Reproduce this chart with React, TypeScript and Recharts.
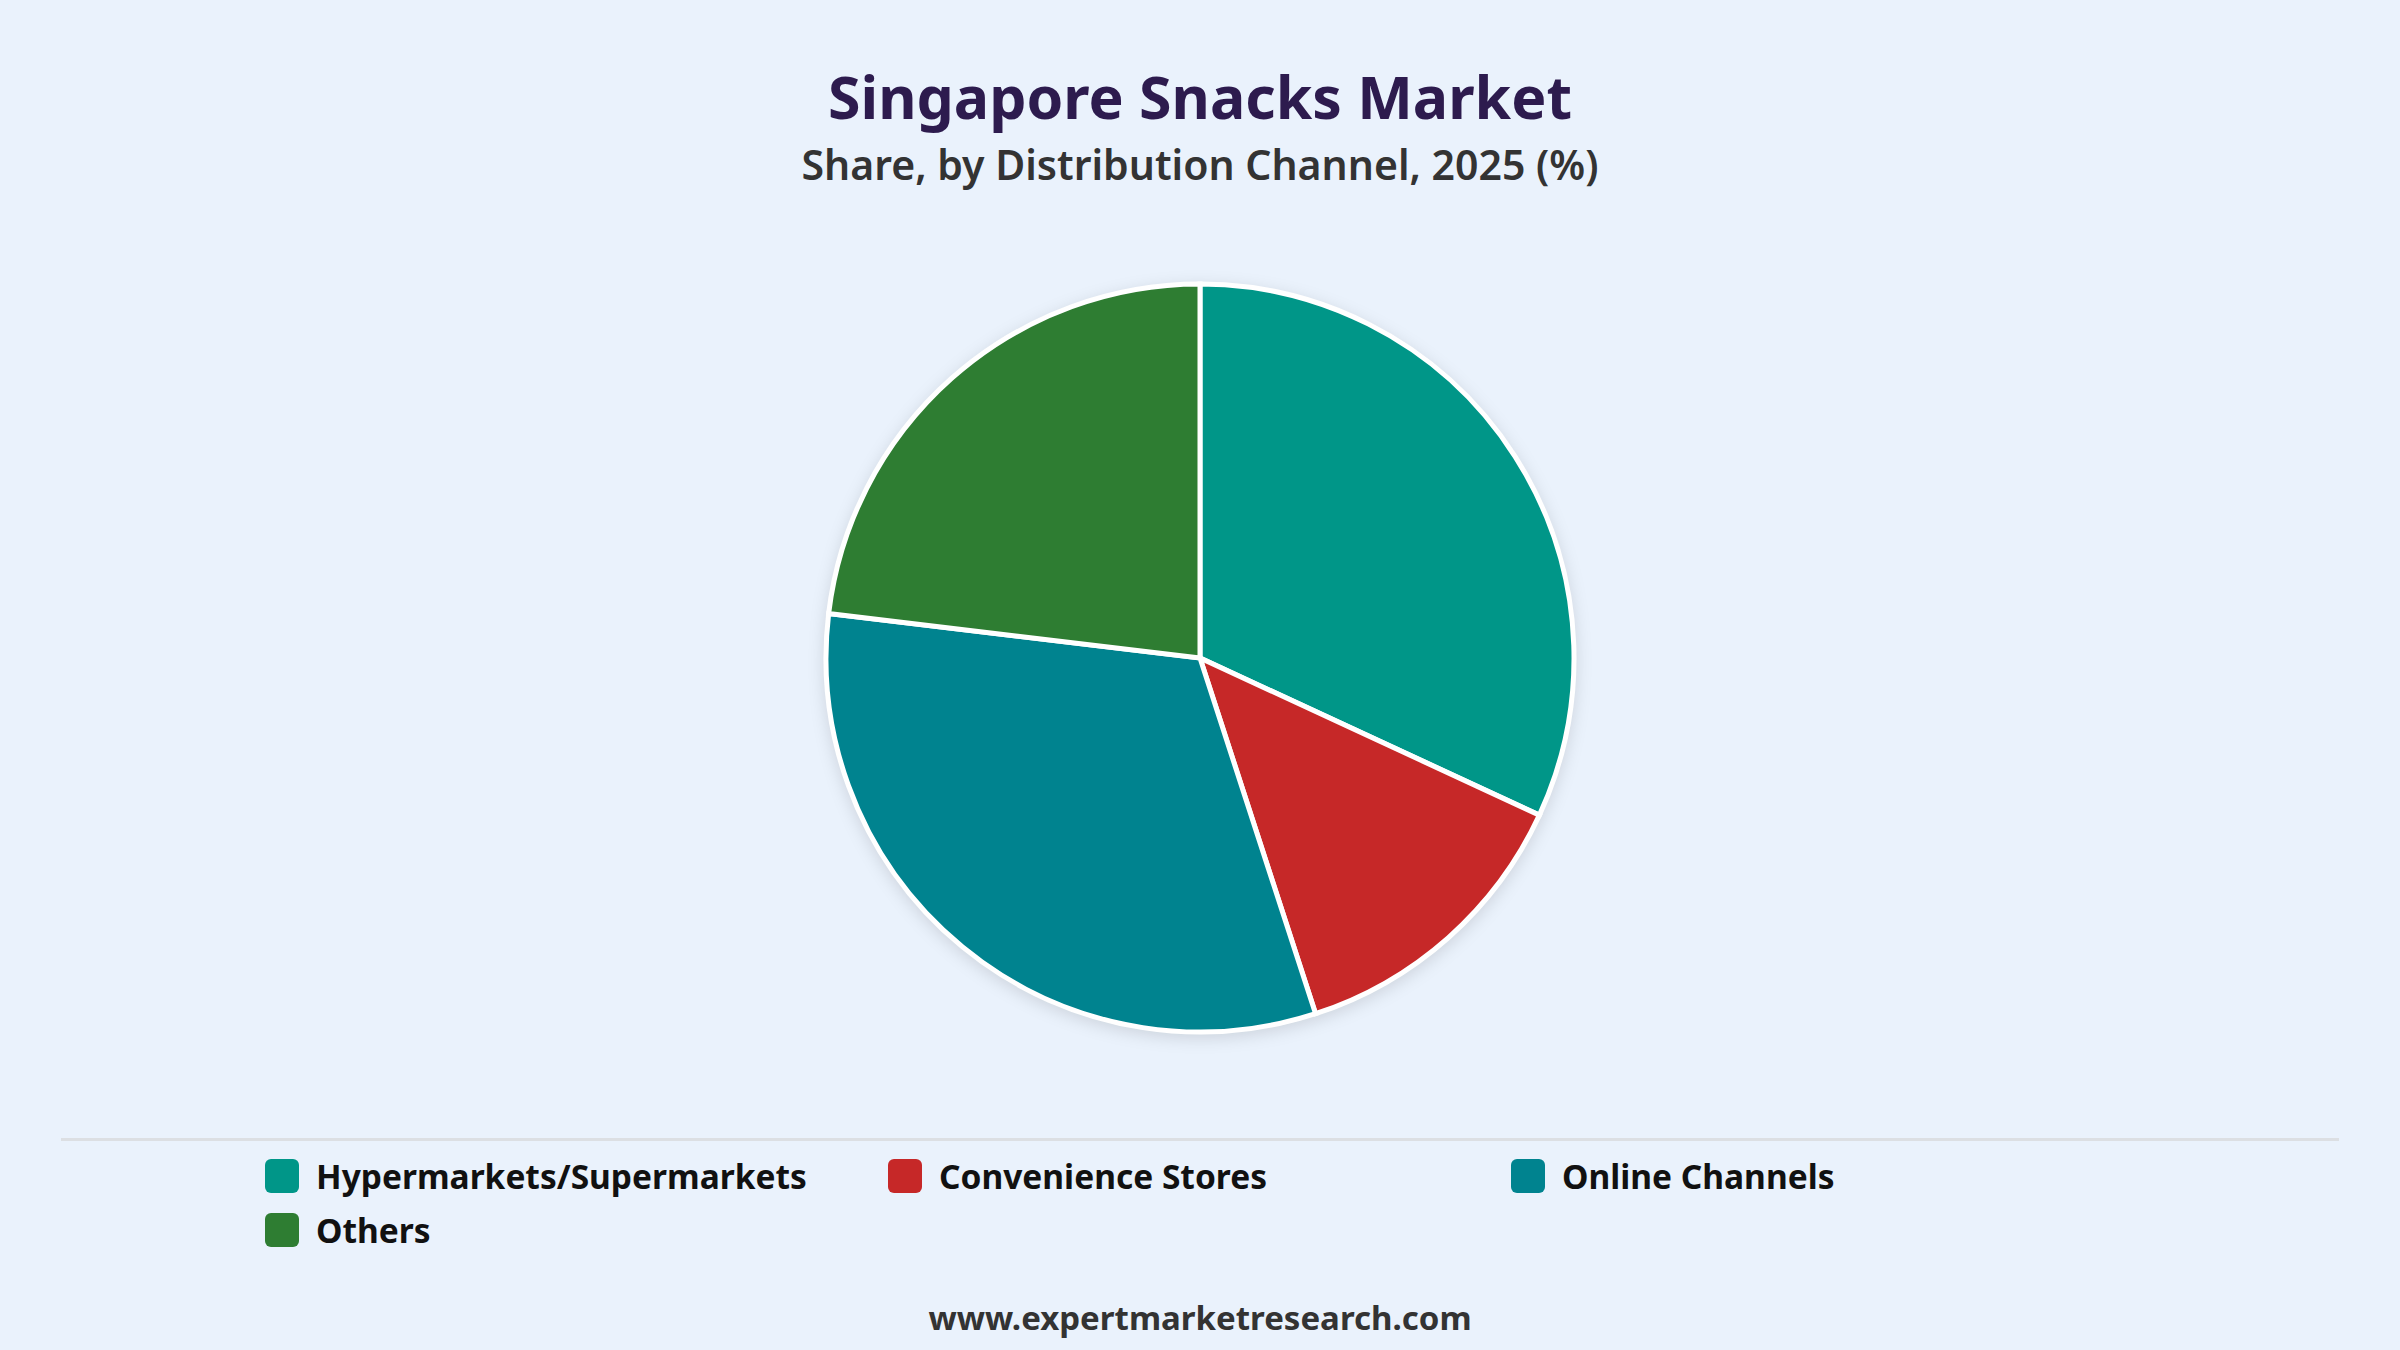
import { PieChart, Pie, Cell } from "recharts"

const channels = ["Hypermarkets/Supermarkets", "Convenience Stores", "Online Channels", "Others"]
const shares = [31.9, 13.1, 31.9, 23.1]
const colors = ["#009688", "#C62828", "#00838F", "#2E7D32"]

const data = channels.map((name, i) => ({ name, value: shares[i] }))

const font = "'Noto Sans', 'Open Sans', sans-serif"

export default function App() {
  return (
    <div style={{ position: "relative", width: 2400, height: 1350, background: "#EAF2FC", fontFamily: font, overflow: "hidden" }}>
      <style>{`body{margin:0}`}</style>
      <div style={{ position: "absolute", top: 58, width: "100%", textAlign: "center", fontSize: 59, fontWeight: 700, color: "#2D1B4E", lineHeight: "76px" }}>
        Singapore Snacks Market
      </div>
      <div style={{ position: "absolute", top: 138, width: "100%", textAlign: "center", fontSize: 41, fontWeight: 600, color: "#333333", lineHeight: "52px" }}>
        Share, by Distribution Channel, 2025 (%)
      </div>

      <div style={{ position: "absolute", top: 0, left: 0, filter: "drop-shadow(0 4px 8px rgba(0,0,0,0.12))" }}>
        <PieChart width={2400} height={1100} margin={{ top: 0, right: 0, bottom: 0, left: 0 }}>
          <Pie
            data={data}
            dataKey="value"
            nameKey="name"
            cx={1200}
            cy={658}
            outerRadius={374}
            startAngle={90}
            endAngle={-270}
            stroke="#ffffff"
            strokeWidth={5}
            isAnimationActive={false}
          >
            {data.map((d, i) => (
              <Cell key={d.name} fill={colors[i]} />
            ))}
          </Pie>
        </PieChart>
      </div>

      <div style={{ position: "absolute", top: 1138, left: 61, width: 2278, height: 3, background: "#DCDFE3" }} />

      <div style={{ position: "absolute", top: 1158, left: 265, width: 1900, display: "grid", gridTemplateColumns: "623px 623px 623px", rowGap: 18 }}>
        {data.map((d, i) => (
          <div key={d.name} style={{ display: "flex", alignItems: "center", height: 36 }}>
            <span style={{ width: 34, height: 34, borderRadius: 6, background: colors[i], marginRight: 17 }} />
            <span style={{ fontSize: 33.5, fontWeight: 700, color: "#111111" }}>{d.name}</span>
          </div>
        ))}
      </div>

      <div style={{ position: "absolute", top: 1296, width: "100%", textAlign: "center", fontSize: 33, fontWeight: 700, color: "#333333", lineHeight: "44px" }}>
        www.expertmarketresearch.com
      </div>
    </div>
  )
}
